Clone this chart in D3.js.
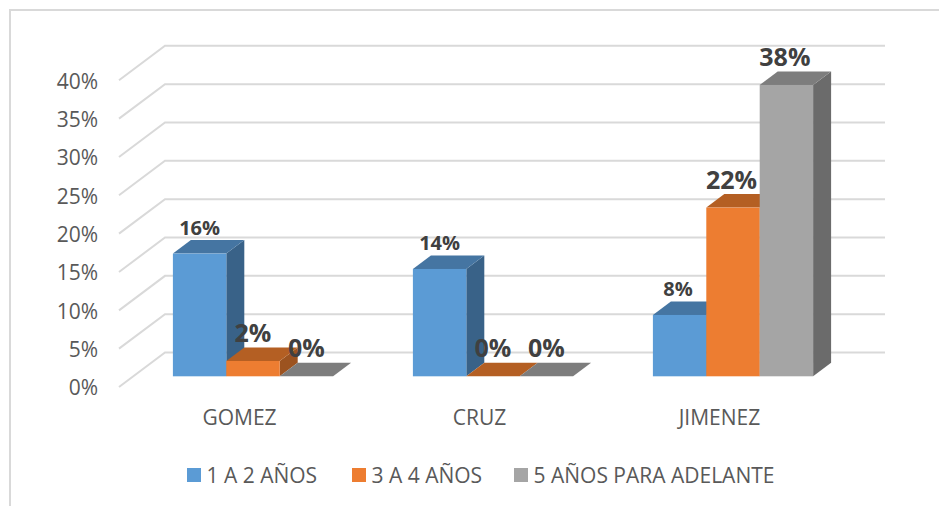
<!DOCTYPE html>
<html><head><meta charset="utf-8">
<script src="https://cdn.jsdelivr.net/npm/d3@7/dist/d3.min.js"></script>
<style>html,body{margin:0;padding:0;background:#fff;overflow:hidden}svg{display:block}</style>
</head><body><svg id="c" width="939" height="506"></svg>
<script>
const categories = ["GOMEZ","CRUZ","JIMENEZ"];
const seriesNames = ["1 A 2 AÑOS","3 A 4 AÑOS","5 AÑOS PARA ADELANTE"];
const serie1 = [16,14,8];
const serie2 = [2,0,22];
const serie3 = [0,0,38];
const yTicks = [0,5,10,15,20,25,30,35,40];

const allSeries = [serie1,serie2,serie3];
const palette = [
  {front:"#5B9BD5",top:"#4575A2",side:"#396288"},
  {front:"#ED7D31",top:"#B45F23",side:"#9C5320"},
  {front:"#A5A5A5",top:"#7D7D7D",side:"#6B6B6B"}
];
const font = "'Open Sans',sans-serif";
const svg = d3.select("#c");

// frame
svg.append("path").attr("d","M10,506V10H939").attr("fill","none").attr("stroke","#D9D9D9").attr("stroke-width",2);

// scales (front plane of the 3D box)
const y = d3.scaleLinear().domain([0,40]).range([387,80.3]);
const x = d3.scaleBand().domain(categories).range([119,839]);
const bar = 53.4, groupW = bar*3;
const wall = {dx:46,dy:-34.5}, depth = {dx:18,dy:-13.5}, inset = {dx:14,dy:-10.7};
const barX = (c,i)=> x(c)+(x.bandwidth()-groupW)/2+inset.dx+i*bar;
const barY = v => y(v)+inset.dy;

// gridlines
svg.append("g").selectAll("path").data(yTicks).join("path")
  .attr("d",t=>`M${x.range()[0]},${y(t)}l${wall.dx},${wall.dy}H${x.range()[1]+wall.dx}`)
  .attr("fill","none").attr("stroke","#D9D9D9").attr("stroke-width",2);

// axes
const yAxis = svg.append("g").attr("transform","translate(98,0)")
  .call(d3.axisLeft(y).tickValues(yTicks).tickFormat(d=>d+"%").tickSize(0).tickPadding(0));
const xAxis = svg.append("g").attr("transform","translate(0.5,410)")
  .call(d3.axisBottom(x).tickSize(0).tickPadding(0));
[yAxis,xAxis].forEach(a=>{a.select(".domain").remove();
  a.selectAll("text").attr("font-family",font).attr("font-size",21).attr("fill","#595959");});
yAxis.selectAll("text").attr("dy","0.38em");
xAxis.selectAll("text").attr("dy","0.71em");

// bars: left to right so that each bar hides the side of the previous one
const gBars = svg.append("g");
categories.forEach((c,ci)=>{
  allSeries.forEach((s,si)=>{
    const v=s[ci], l=barX(c,si), r=l+bar, t=barY(v), b=barY(0), p=palette[si], g=gBars.append("g");
    g.append("path").attr("fill",p.side)
      .attr("d",`M${r},${t}l${depth.dx},${depth.dy}V${b+depth.dy}L${r},${b}Z`);
    g.append("path").attr("fill",p.top)
      .attr("d",`M${l},${t}l${depth.dx},${depth.dy}H${r+depth.dx}L${r},${t}Z`);
    if(v>0) g.append("rect").attr("x",l).attr("y",t).attr("width",bar).attr("height",b-t).attr("fill",p.front);
  });
});

// data labels
const smallLabels = (ci,si)=> si===0;
categories.forEach((c,ci)=>{
  allSeries.forEach((s,si)=>{
    const small = smallLabels(ci,si);
    svg.append("text").text(s[ci]+"%")
      .attr("x",barX(c,si)+bar/2-(ci===2?1.5:0))
      .attr("y",barY(s[ci])-(small?18.5:19))
      .attr("text-anchor","middle").attr("font-family",font).attr("font-weight",700)
      .attr("font-size",small?20:25).attr("fill","#404040");
  });
});

// legend
const legendX = [187,352,514];
const lg = svg.append("g");
seriesNames.forEach((n,i)=>{
  lg.append("rect").attr("x",legendX[i]).attr("y",468).attr("width",14).attr("height",14).attr("fill",palette[i].front);
  lg.append("text").text(n).attr("x",legendX[i]+19.5).attr("y",482.5)
    .attr("font-family",font).attr("font-size",21).attr("fill","#595959");
});
</script></body></html>
